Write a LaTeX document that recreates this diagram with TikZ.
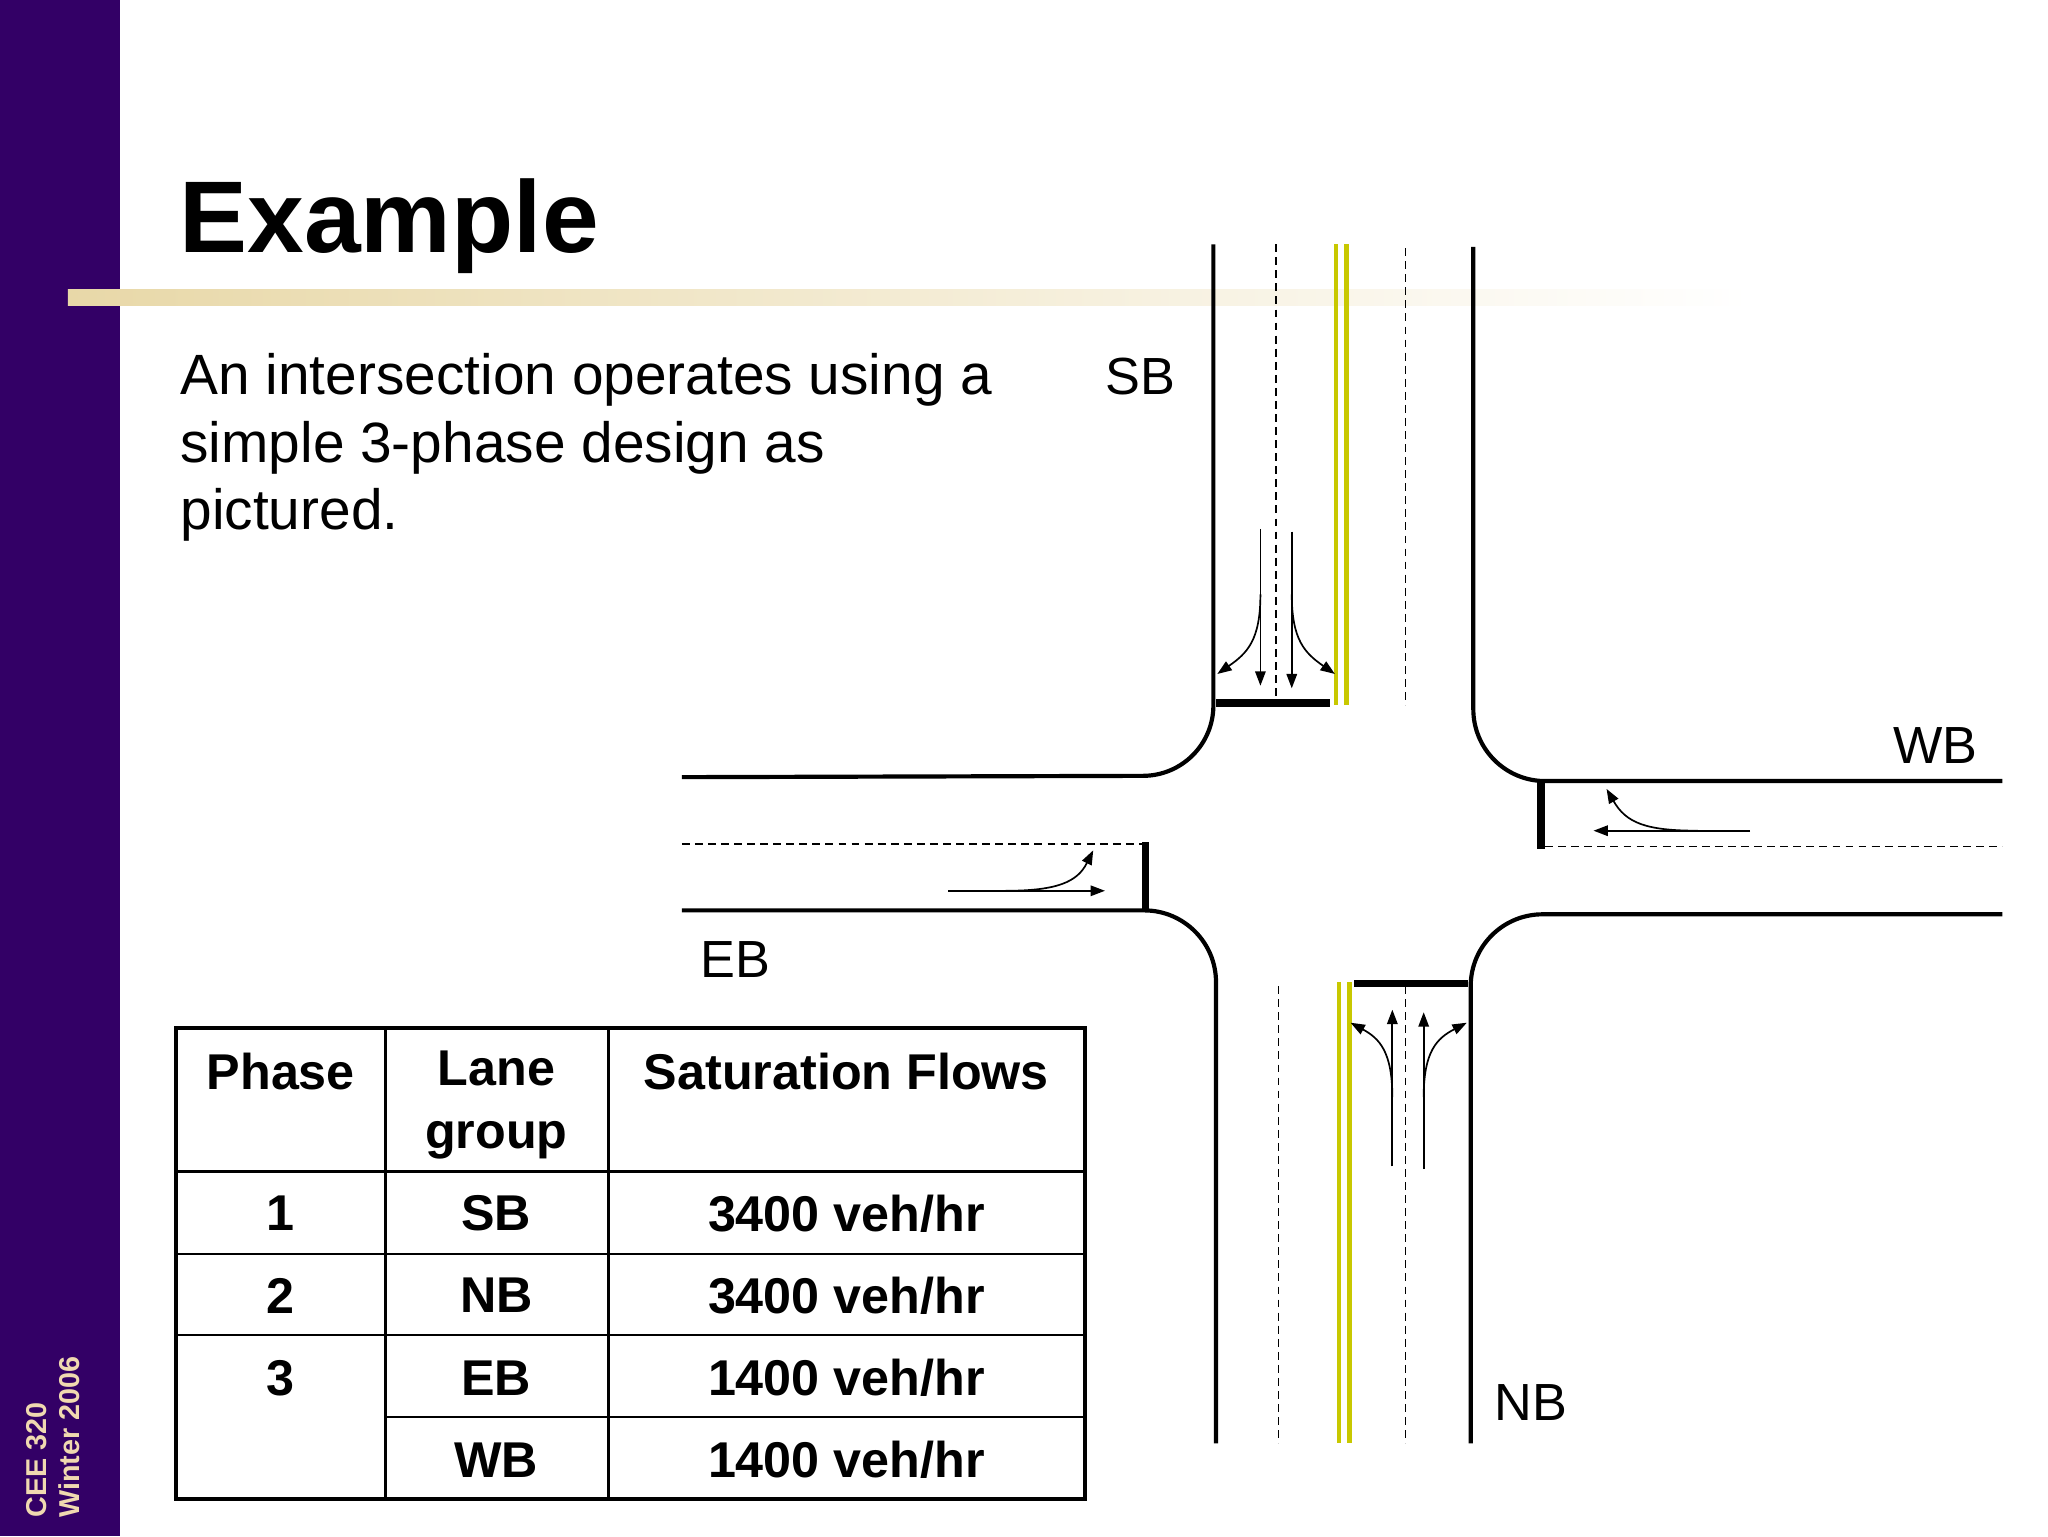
\documentclass[tikz,border=0pt]{standalone}
\usepackage{fontspec}
\setmainfont{Liberation Sans}
\usetikzlibrary{arrows.meta}
\definecolor{purp}{HTML}{330066}
\definecolor{gold}{HTML}{E8D8A8}
\definecolor{yel}{HTML}{C8C800}
\definecolor{side}{HTML}{F0D9B0}
\begin{document}
\begin{tikzpicture}[x=1pt,y=-1pt,
  curb/.style={line width=3.2pt},
  lanedash/.style={line width=1.2pt,dash pattern=on 6pt off 4pt},
  yline/.style={yel,line width=3.5pt},
  bar/.style={line width=6pt},
  arr/.style={line width=1.3pt,-{Triangle[length=11pt,width=8pt]}},
  lbl/.style={font=\fontsize{40}{44}\selectfont},
  th/.style={font=\bfseries\fontsize{38.5}{48}\selectfont,align=center},
  grid/.style={line width=2pt}]
\useasboundingbox (0,0) rectangle (1568,1176);
\fill[purp] (0,0) rectangle (92,1176);
\shade[left color=gold,right color=white] (52,222) rectangle (1340,234);
\node[anchor=base west,font=\bfseries\fontsize{78}{90}\selectfont] (title) at (134,193) {Example};
\node[anchor=north west,inner sep=0pt,font=\fontsize{43.5}{52}\selectfont,align=left] (body) at (138,270)
  {An intersection operates using a\\simple 3-phase design as\\pictured.};
\node[rotate=90,anchor=north west,font=\bfseries\fontsize{22}{25}\selectfont,text=side,align=left,inner sep=0pt] (side) at (20,1162) {CEE 320\\Winter 2006};
% curbs
\draw[curb] (929,187) -- (929,540) arc[start angle=0,end angle=90,radius=54] -- (522,595);
\draw[curb] (1128,189) -- (1128,543) arc[start angle=180,end angle=90,radius=55] -- (1533,598);
\draw[curb] (522,697) -- (876,697) arc[start angle=-90,end angle=0,radius=55] -- (931,1105);
\draw[curb] (1533,700) -- (1181,700) arc[start angle=-90,end angle=-180,radius=55] -- (1126,1105);
% lane markings
\draw[lanedash] (977,187) -- (977,540);
\draw[lanedash] (1076,190) -- (1076,540);
\draw[yline] (1023,187) -- (1023,540);
\draw[yline] (1031,187) -- (1031,540);
\draw[lanedash] (979,755) -- (979,1105);
\draw[lanedash] (1076,755) -- (1076,1105);
\draw[yline] (1025,752) -- (1025,1105);
\draw[yline] (1033,752) -- (1033,1105);
\draw[lanedash] (522,646) -- (875,646);
\draw[lanedash] (1183,648) -- (1533,648);
% stop bars
\draw[bar] (931,538) -- (1018,538);
\draw[bar] (1037,753) -- (1124,753);
\draw[bar] (877,645) -- (877,697);
\draw[bar] (1180,598) -- (1180,650);
% SB arrows
\draw[arr] (965,405) -- (965,525);
\draw[arr] (989,407) -- (989,527);
\draw[arr] (965,455) .. controls (965,490) and (955,500) .. (932,516);
\draw[arr] (989,455) .. controls (989,490) and (999,500) .. (1022,516);
% NB arrows
\draw[arr] (1066,893) -- (1066,773);
\draw[arr] (1090,895) -- (1090,775);
\draw[arr] (1066,840) .. controls (1066,805) and (1056,795) .. (1034,783);
\draw[arr] (1090,840) .. controls (1090,805) and (1100,795) .. (1123,783);
% EB arrows
\draw[arr] (726,682) -- (846,682);
\draw[arr] (770,682) .. controls (810,682) and (825,675) .. (837,651);
% WB arrows
\draw[arr] (1340,636) -- (1220,636);
\draw[arr] (1300,636) .. controls (1260,636) and (1245,630) .. (1230,604);
% labels
\node[lbl] (sb) at (873,288) {SB};
\node[lbl] (wb) at (1482,571) {WB};
\node[lbl] (eb) at (563,735) {EB};
\node[lbl] (nb) at (1172,1074) {NB};
% table
\draw[line width=3pt] (135,787) rectangle (831,1148);
\draw[grid] (295,787) -- (295,1148);
\draw[grid] (466,787) -- (466,1148);
\draw[grid] (135,897) -- (831,897);
\draw[grid] (135,960) -- (831,960);
\draw[grid] (135,1022) -- (831,1022);
\draw[grid] (295,1085) -- (831,1085);
\node[th] (h1) at (215,820) {Phase};
\node[th] (h2) at (380,846) {Lane\\group};
\node[th] (h3) at (648,820) {Saturation Flows};
\node[th] (r1a) at (215,929) {1};
\node[th] (r1b) at (380,929) {SB};
\node[th] (r1c) at (648,929) {3400 veh/hr};
\node[th] (r2a) at (215,992) {2};
\node[th] (r2b) at (380,992) {NB};
\node[th] (r2c) at (648,992) {3400 veh/hr};
\node[th] (r3a) at (215,1055) {3};
\node[th] (r3b) at (380,1055) {EB};
\node[th] (r3c) at (648,1055) {1400 veh/hr};
\node[th] (r4b) at (380,1118) {WB};
\node[th] (r4c) at (648,1118) {1400 veh/hr};
\end{tikzpicture}
\end{document}
